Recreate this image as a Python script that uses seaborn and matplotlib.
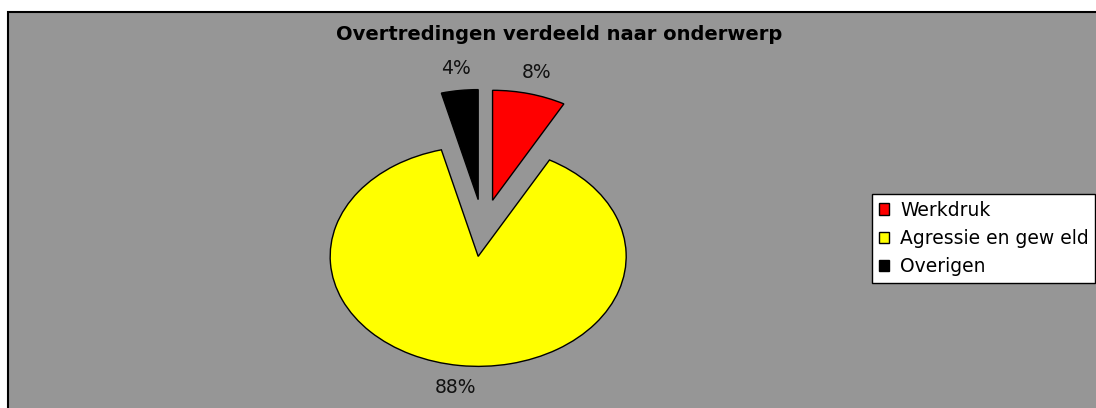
import matplotlib
matplotlib.use("Agg")
import matplotlib.pyplot as plt
import seaborn as sns
from matplotlib.patches import Rectangle

sns.set_style("white")
plt.rcParams['font.family'] = ['DejaVu Sans']

# chart data
categories = ["Werkdruk", "Agressie en gew eld", "Overigen"]
shares = [8, 88, 4]
colors = ["#ff0000", "#ffff00", "#000000"]

W, H = 1096, 408
fig = plt.figure(figsize=(W / 100, H / 100), dpi=100, facecolor="white")

# grey chart area with black frame (runs off right and bottom edge)
fig.patches.append(Rectangle((8 / W, -0.05), 1.1, 1.05 - 12.5 / H,
                             transform=fig.transFigure, facecolor="#969696",
                             edgecolor="black", linewidth=1.5, zorder=-5))

ax = fig.add_axes([0, 0, 1, 1])
ax.set_facecolor("none")

wedges, _, pcts = ax.pie(shares, colors=colors, startangle=90, counterclock=False,
                         explode=[0.26] * len(shares), autopct="%.0f%%",
                         pctdistance=1.2,
                         wedgeprops=dict(edgecolor="black", linewidth=1))
for t in pcts:
    t.set_fontsize(13.5)
    t.set_color("#111111")

# stretched (elliptical) pie: 148 px per unit horizontally, 110 px vertically
cx, cy = 483, 228
ax.set_aspect("auto")
ax.set_xlim(-cx / 148, (W - cx) / 148)
ax.set_ylim(-(H - cy) / 110, cy / 110)
ax.axis("off")

fig.text(559.5 / W, 1 - 34 / H, "Overtredingen verdeeld naar onderwerp",
         ha="center", va="center", fontsize=14, fontweight="bold", color="black")

leg = ax.legend(wedges, categories, loc="upper left",
                bbox_to_anchor=(872 / W, 1 - 194 / H), bbox_transform=fig.transFigure,
                borderaxespad=0, fontsize=13.5, frameon=True, fancybox=False,
                framealpha=1, handlelength=0.55, handleheight=0.55, handletextpad=0.6,
                labelspacing=0.5, borderpad=0.35)
leg.get_frame().set_edgecolor("black")
leg.get_frame().set_linewidth(1)
leg.get_frame().set_facecolor("white")
for t in leg.get_texts():
    t.set_color("black")

plt.savefig("out.png", dpi=100, facecolor="white")
